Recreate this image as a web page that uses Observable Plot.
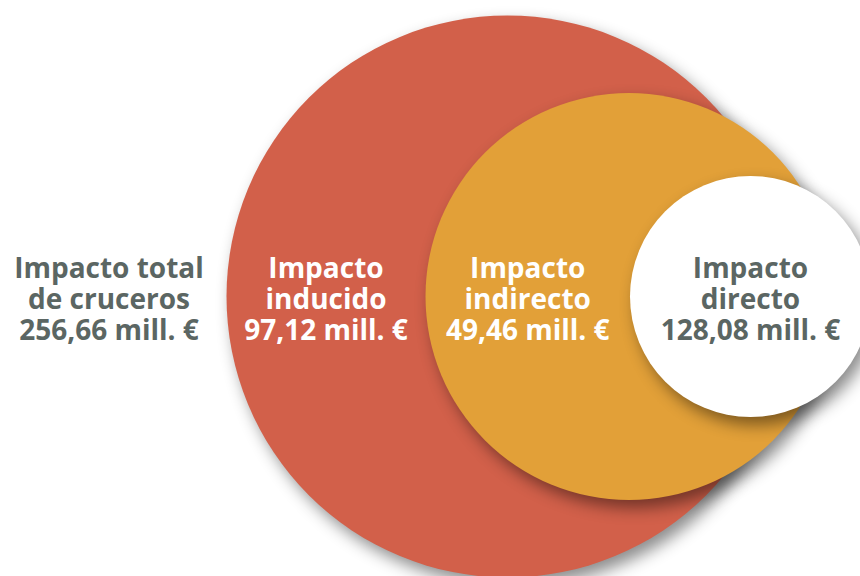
<!DOCTYPE html>
<html><head><meta charset="utf-8">
<script src="https://cdn.jsdelivr.net/npm/d3@7"></script>
<script src="https://cdn.jsdelivr.net/npm/@observablehq/plot@0.6"></script>
<style>html,body{margin:0;padding:0;background:#fff;overflow:hidden;} #chart{width:860px;height:576px;overflow:hidden;}</style>
</head><body><div id="chart"></div>
<script>
// Data
const components = ["Impacto inducido", "Impacto indirecto", "Impacto directo"];
const componentValues = [97.12, 49.46, 128.08];
const totalName = "Impacto total de cruceros";
const totalValue = 256.66;
const labelLines = [["Impacto total", "de cruceros"], ["Impacto", "inducido"], ["Impacto", "indirecto"], ["Impacto", "directo"]];
const unit = "mill. €";
const circleColors = ["#D2604A", "#E2A038", "#FFFFFF"];
const textColors = ["#5B6663", "#FFFFFF", "#FFFFFF", "#5B6663"];

const fmt = d3.formatLocale({decimal: ",", thousands: ".", grouping: [3], currency: ["", "€"]}).format(".2f");

// nested circles: each circle holds its component plus all that follow
const circles = components.map((name, i) => ({name, slot: i, value: d3.sum(componentValues.slice(i))}));

const xRange = [507, 750];
const rDomain = circles.map(d => d.value).sort((a, b) => a - b);
const rRange = [120.5, 203.5, 281];
const xS = d3.scaleLinear([0, circles.length - 1], xRange);
const rS = d3.scaleLinear(rDomain, rRange);
const leftEdges = circles.map(d => xS(d.slot) - rS(d.value));

const labelPx = [leftEdges[0] * 0.48,
  (leftEdges[0] + leftEdges[1]) / 2,
  (leftEdges[1] + leftEdges[2]) / 2,
  xS(circles.length - 1)];
const allValues = [totalValue, ...componentValues];
const labels = labelLines.map((lines, i) => ({
  slot: xS.invert(labelPx[i]),
  text: [...lines, `${fmt(allValues[i])} ${unit}`].join("\n"),
  k: i
}));

const font = {fontFamily: "'Open Sans', Roboto, sans-serif", fontSize: 28, fontWeight: "bold", lineHeight: 1.107, lineAnchor: "middle", dy: 3};

const plot = Plot.plot({
  width: 860,
  height: 576,
  marginTop: 16, marginBottom: 0, marginLeft: 0, marginRight: 0,
  x: {type: "linear", domain: [0, circles.length - 1], range: xRange, axis: null},
  r: {type: "linear", domain: rDomain, range: rRange},
  color: {domain: components, range: circleColors},
  style: {background: "transparent", overflow: "hidden"},
  marks: [
    Plot.dot(circles, {x: "slot", r: "value", fill: "name", frameAnchor: "middle", sort: {channel: "-r"}}),
    ...labels.map((l, i) => Plot.text([l], {x: "slot", text: "text", frameAnchor: "middle", fill: textColors[i], ...font}))
  ]
});
plot.querySelectorAll("circle").forEach(c => {
  c.style.filter = "drop-shadow(6px 8px 8px rgba(0,0,0,0.45))";
});
document.getElementById("chart").appendChild(plot);
</script>
</body></html>
